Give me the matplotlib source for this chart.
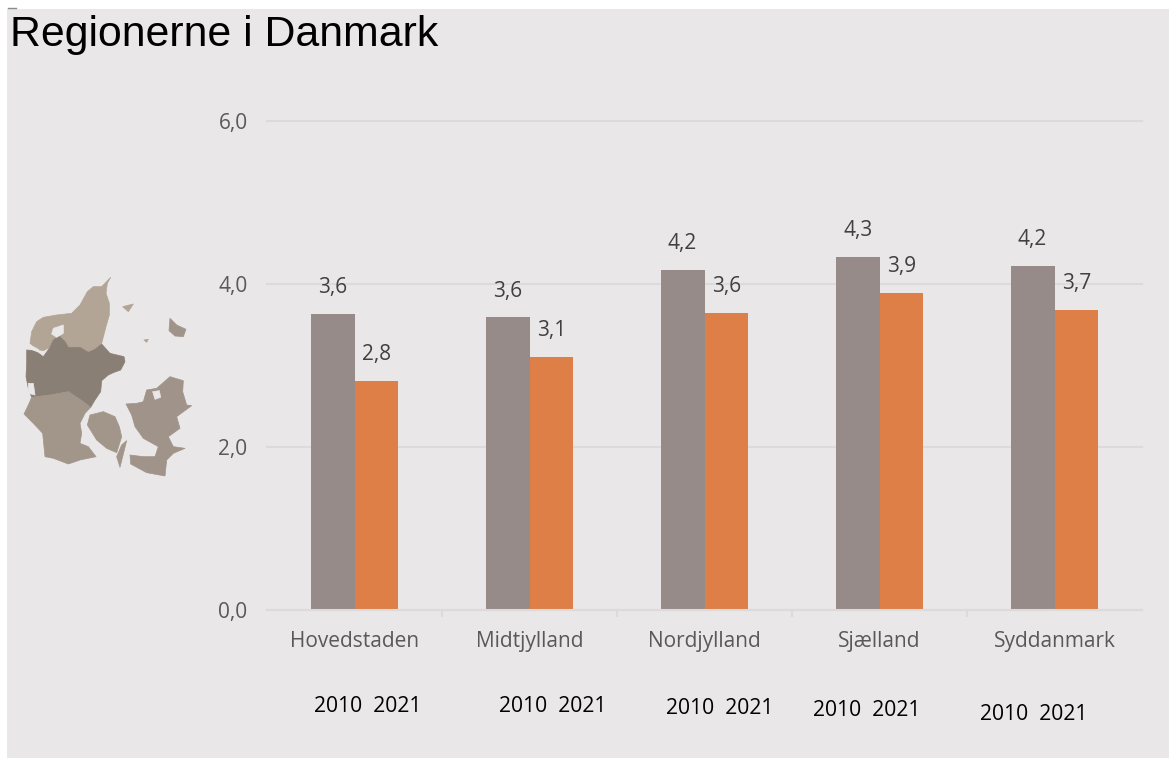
import matplotlib
matplotlib.use('Agg')
import matplotlib.pyplot as plt
import numpy as np
from matplotlib.patches import Polygon

W, H = 1169, 759

regions = ['Hovedstaden', 'Midtjylland', 'Nordjylland', 'Sjælland', 'Syddanmark']
values_2010 = [3.63, 3.59, 4.17, 4.33, 4.22]
values_2021 = [2.81, 3.10, 3.65, 3.89, 3.68]
labels_2010 = ['3,6', '3,6', '4,2', '4,3', '4,2']
labels_2021 = ['2,8', '3,1', '3,6', '3,9', '3,7']
yticks = [0, 2, 4, 6]
ytick_labels = ['0,0', '2,0', '4,0', '6,0']
year_label_x = [368, 553, 720, 867, 1034]
year_label_y = [707, 707, 709, 711, 715]

nord = [(332, 52), (322, 70), (318, 100), (328, 130), (328, 165), (318, 200), (305, 250), (285, 268),
        (265, 277), (240, 262), (205, 262), (195, 245), (178, 228), (160, 240), (150, 262), (130, 272),
        (110, 268), (90, 250), (95, 215), (110, 185), (130, 172), (170, 165), (215, 160), (240, 135),
        (262, 95), (280, 80), (305, 80)]
midt = [(80, 270), (105, 272), (130, 290), (150, 262), (160, 240), (178, 228), (195, 245), (205, 262),
        (240, 262), (265, 277), (285, 268), (305, 252), (330, 280), (372, 290), (375, 305), (362, 330),
        (340, 338), (325, 345), (305, 362), (302, 395), (285, 420), (272, 442), (250, 425), (205, 395),
        (150, 405), (95, 412), (85, 385), (78, 350), (80, 310)]
syd = [(95, 412), (150, 405), (205, 395), (250, 425), (272, 442), (255, 460), (240, 490), (245, 520),
       (240, 550), (265, 560), (288, 590), (240, 600), (205, 612), (160, 595), (135, 590), (132, 560),
       (128, 520), (100, 490), (72, 462), (85, 435)]
fyn = [(310, 455), (345, 470), (358, 500), (365, 530), (350, 578), (320, 565), (290, 540), (262, 495),
       (270, 465)]
sjael = [(378, 432), (410, 430), (430, 425), (440, 390), (470, 385), (510, 350), (550, 362), (548, 395),
         (560, 435), (575, 437), (530, 470), (540, 505), (505, 530), (520, 560), (555, 565), (520, 580),
         (500, 600), (495, 648), (440, 638), (392, 612), (390, 585), (430, 590), (465, 590), (475, 560),
         (430, 535), (405, 500), (395, 465)]
bornholm = [(510, 175), (530, 195), (558, 208), (550, 230), (525, 228), (507, 212)]
laesoe = [(368, 140), (400, 132), (385, 155)]
anholt = [(432, 240), (445, 238), (440, 247)]
langeland = [(380, 542), (368, 590), (360, 622), (350, 590), (365, 555)]
hole_1 = [(160, 205), (190, 195), (190, 220), (170, 232), (155, 222)]
hole_2 = [(90, 255), (115, 268), (115, 276), (98, 270)]
hole_3 = [(85, 370), (100, 370), (105, 405), (85, 400)]
hole_4 = [(458, 395), (478, 392), (482, 412), (465, 418)]
map_parts = [(nord, '#b3a595'), (midt, '#8a7f74'), (syd, '#a2968a'), (fyn, '#a2968a'), (sjael, '#a0948a'),
             (bornholm, '#a0948a'), (laesoe, '#b3a595'), (anholt, '#b3a595'), (langeland, '#a2968a'),
             (hole_1, '#e9e7e8'), (hole_2, '#e9e7e8'), (hole_3, '#e9e7e8'), (hole_4, '#e9e7e8')]

plt.rcParams['font.family'] = ['Liberation Sans', 'DejaVu Sans']
body_font = ['Open Sans', 'DejaVu Sans']

fig = plt.figure(figsize=(W / 100, H / 100), dpi=100, facecolor='white')

# grey panel behind everything
bg = fig.add_axes([0, 0, 1, 1])
bg.set_xlim(0, W)
bg.set_ylim(H, 0)
bg.axis('off')
bg.add_patch(plt.Rectangle((7, 9), 1162, 749, color='#e9e7e8', lw=0))
bg.plot([8, 16], [8, 8], color='#8c8c8c', lw=1)

for part, col in map_parts:
    pts = np.array(part) / 3 + np.array([0, 260])
    bg.add_patch(Polygon(pts, closed=True, facecolor=col, edgecolor=col, lw=0.5, joinstyle='round'))

ax = fig.add_axes([267 / W, 1 - 610 / H, (1142 - 267) / W, (610 - 121) / H])
ax.patch.set_alpha(0)
x = np.arange(5)
w = 0.25
ax.bar(x - w / 2, values_2010, w, color='#968b89')
ax.bar(x + w / 2, values_2021, w, color='#dd7f46')
ax.set_xlim(-0.5, 4.5)
ax.set_ylim(0, 6)
ax.set_yticks(yticks)
ax.set_yticklabels(ytick_labels)
ax.set_xticks(x)
ax.set_xticklabels(regions)
ax.grid(axis='y', color='#dcdada', lw=1.5, clip_on=False)
ax.set_axisbelow(True)
for s in ['top', 'left', 'right']:
    ax.spines[s].set_visible(False)
ax.spines['bottom'].set_color('#dcdada')
ax.spines['bottom'].set_linewidth(1.5)
ax.tick_params(axis='y', length=0, pad=14, labelsize=15, labelcolor='#595959')
ax.tick_params(axis='x', length=0, pad=15, labelsize=15, labelcolor='#595959')
for lab in ax.get_xticklabels() + ax.get_yticklabels():
    lab.set_family(body_font)
for edge in np.arange(0.5, 4.5):
    ax.plot([edge, edge], [0, -0.07], color='#dcdada', lw=1.5, clip_on=False)

for i in range(5):
    ax.text(x[i] - w / 2, values_2010[i] + 0.195, labels_2010[i], ha='center', va='bottom',
            fontsize=15, color='#404040', family=body_font)
    ax.text(x[i] + w / 2, values_2021[i] + 0.195, labels_2021[i], ha='center', va='bottom',
            fontsize=15, color='#404040', family=body_font)

bg.text(10, 35, 'Regionerne i Danmark', fontsize=30.8, color='black', va='center', ha='left')
for xp, yp in zip(year_label_x, year_label_y):
    bg.text(xp, yp, '2010  2021', fontsize=15.2, color='black', ha='center', va='center',
            family=body_font)

fig.savefig('out.png', dpi=100)
